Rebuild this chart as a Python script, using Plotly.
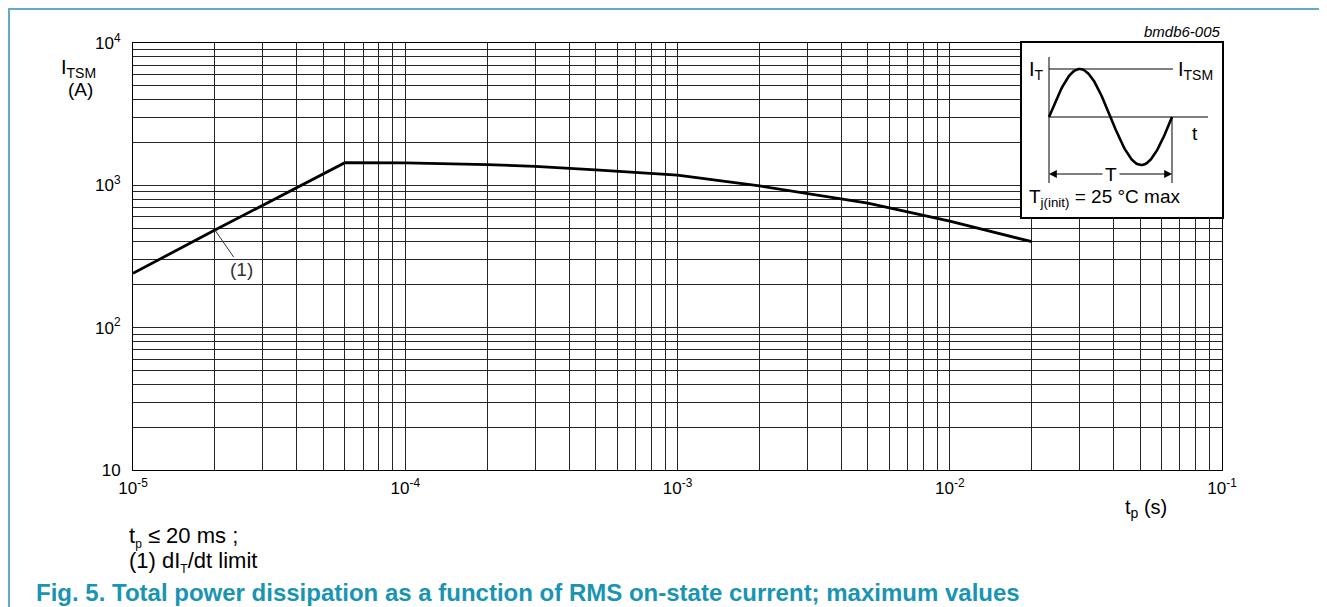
import numpy as np
import plotly.graph_objects as go

# ---- data ----
tp_s = [1e-5, 2e-5, 6e-5, 7e-5, 1e-4, 2e-4, 3e-4, 5e-4, 7e-4, 1e-3, 2e-3, 3e-3, 5e-3, 1e-2, 2e-2]
itsm_a = [241, 485, 1442, 1445, 1440, 1400, 1360, 1285, 1235, 1180, 990, 880, 750, 560, 402]

x_decades = [-5, -4, -3, -2]
y_decades = [1, 2, 3]
x_tick_labels = ["10<sup>-5</sup>", "10<sup>-4</sup>", "10<sup>-3</sup>", "10<sup>-2</sup>", "10<sup>-1</sup>"]
y_tick_labels = ["10", "10<sup>2</sup>", "10<sup>3</sup>", "10<sup>4</sup>"]

# inset schematic geometry (inset axis units)
inset_sine_x0, inset_sine_x1 = 27, 150
inset_base, inset_amp = 100, 48

OFF = 8                      # page body margin
W, H = 1327 - OFF, 607 - OFF
L, R, T, B = 133, 1222, 43, 470   # plot area in page pixels
FONT = "Liberation Sans, Arial, sans-serif"
TEAL = "#1a94b3"
GRID = "#262626"


def px(xp):
    return (xp - L) / (R - L)


def py(yp):
    return (B - yp) / (B - T)


xtv, xtt = [], []
for i, d in enumerate(x_decades):
    for m in range(1, 10):
        xtv.append(m * 10.0 ** d)
        xtt.append(x_tick_labels[i] if m == 1 else "")
xtv.append(10.0 ** -1)
xtt.append(x_tick_labels[-1])

ytv, ytt = [], []
for i, d in enumerate(y_decades):
    for m in range(1, 10):
        ytv.append(m * 10.0 ** d)
        ytt.append(y_tick_labels[i] if m == 1 else "")
ytv.append(10.0 ** 4)
ytt.append(y_tick_labels[-1])

fig = go.Figure()
fig.add_trace(go.Scatter(x=tp_s, y=itsm_a, mode="lines",
                         line=dict(color="black", width=2.8), showlegend=False,
                         hoverinfo="skip"))

# inset sine (schematic)
sx = np.linspace(inset_sine_x0, inset_sine_x1, 121)
sy = inset_base + inset_amp * np.sin(2 * np.pi * (sx - inset_sine_x0) / (inset_sine_x1 - inset_sine_x0))
fig.add_trace(go.Scatter(x=sx, y=sy, mode="lines", xaxis="x2", yaxis="y2",
                         line=dict(color="black", width=2.6), showlegend=False, hoverinfo="skip"))
inset_lines = [
    ([27, 27], [160, 34]),      # vertical axis
    ([27, 151], [148, 148]),    # ITSM level
    ([27, 186], [100, 100]),    # time axis
    ([150, 150], [100, 34]),    # end of period
]
for lx, ly in inset_lines:
    fig.add_trace(go.Scatter(x=lx, y=ly, mode="lines", xaxis="x2", yaxis="y2",
                             line=dict(color="black", width=1), showlegend=False, hoverinfo="skip"))

fig.update_layout(
    width=W, height=H,
    margin=dict(l=L - OFF, r=(W + OFF) - R, t=T - OFF, b=(H + OFF) - B, pad=0),
    paper_bgcolor="white", plot_bgcolor="white",
    font=dict(family=FONT, size=17, color="black"),
    xaxis=dict(type="log", range=[-5, -1], tickmode="array", tickvals=xtv, ticktext=xtt,
               showgrid=True, gridcolor=GRID, gridwidth=1, zeroline=False,
               showline=True, linecolor="black", linewidth=1, mirror=True,
               ticks="", tickangle=0, tickfont=dict(size=17), ticklabelstandoff=3),
    yaxis=dict(type="log", range=[1, 4], tickmode="array", tickvals=ytv, ticktext=ytt,
               showgrid=True, gridcolor=GRID, gridwidth=1, zeroline=False,
               showline=True, linecolor="black", linewidth=1, mirror=True,
               ticks="", tickfont=dict(size=17), ticklabelstandoff=8),
    xaxis2=dict(domain=[px(1022), 1.0], range=[0, 200], anchor="y2",
                showgrid=False, zeroline=False, showticklabels=False, ticks="",
                showline=True, linecolor="black", linewidth=1.5, mirror=True, fixedrange=True),
    yaxis2=dict(domain=[py(217), 1.0], range=[0, 174], anchor="x2",
                showgrid=False, zeroline=False, showticklabels=False, ticks="",
                showline=True, linecolor="black", linewidth=1.5, mirror=True, fixedrange=True),
)


def pa(xp, yp, text, size, xanchor="center", **kw):
    return dict(x=px(xp), y=py(yp), xref="paper", yref="paper", text=text, showarrow=False,
                xanchor=xanchor, yanchor="middle", font=dict(size=size, **kw))


def small_sub(s, size):
    return "<sub><span style='font-size:%dpx'>%s</span></sub>" % (size, s)


ann = []
ann.append(dict(x=np.log10(2e-5), y=np.log10(485), xref="x", yref="y", text="(1)",
                showarrow=True, arrowhead=0, arrowwidth=1, arrowcolor="#333", ax=27, ay=39,
                font=dict(size=19, color="#333"), standoff=0))
ann.append(pa(78, 69, "I<sub>TSM</sub>", 20))
ann.append(pa(80, 89, "(A)", 19))
ann.append(pa(1146, 508, "t<sub>p</sub> (s)", 20))
ann.append(pa(127, 537, "t" + small_sub("p", 12) + " ≤ 20 ms ;", 22, xanchor="left"))
ann.append(pa(127, 562, "(1) dI" + small_sub("T", 12) + "/dt limit", 22, xanchor="left"))
ann.append(pa(34, 592, "<b>Fig. 5. Total power dissipation as a function of RMS on-state current; maximum values</b>",
              24, xanchor="left", color=TEAL))
ann.append(pa(1223, 32, "<i>bmdb6-005</i>", 15, xanchor="right"))
# inset texts
ann.append(dict(x=14, y=147, xref="x2", yref="y2", text="I<sub>T</sub>", showarrow=False, font=dict(size=20)))
ann.append(dict(x=173, y=147, xref="x2", yref="y2", text="I<sub>TSM</sub>", showarrow=False, font=dict(size=20)))
ann.append(dict(x=173, y=84, xref="x2", yref="y2", text="t", showarrow=False, font=dict(size=19)))
ann.append(dict(x=89, y=43, xref="x2", yref="y2", text="T", showarrow=False, font=dict(size=19)))
ann.append(dict(x=82, y=19, xref="x2", yref="y2", text="T<sub>j(init)</sub> = 25 °C max",
                showarrow=False, font=dict(size=19)))
for x_head, x_tail in [(27, 82), (150, 96)]:
    ann.append(dict(x=x_head, y=43, ax=x_tail, ay=43, xref="x2", yref="y2", axref="x2", ayref="y2",
                    text="", showarrow=True, arrowhead=2, arrowsize=1.3, arrowwidth=1.2,
                    arrowcolor="black", standoff=0))
fig.update_layout(annotations=ann)

# outer frame
BORDER = "#62adc1"
fig.add_shape(type="line", xref="paper", yref="paper", x0=px(9), x1=px(9), y0=py(OFF), y1=py(H + OFF + 5),
              line=dict(color=BORDER, width=2))
fig.add_shape(type="line", xref="paper", yref="paper", x0=px(1325), x1=px(1325), y0=py(OFF), y1=py(H + OFF + 5),
              line=dict(color=BORDER, width=2))
fig.add_shape(type="line", xref="paper", yref="paper", x0=px(9), x1=px(1325), y0=py(9), y1=py(9),
              line=dict(color=BORDER, width=2))

fig.write_html("out.html")
